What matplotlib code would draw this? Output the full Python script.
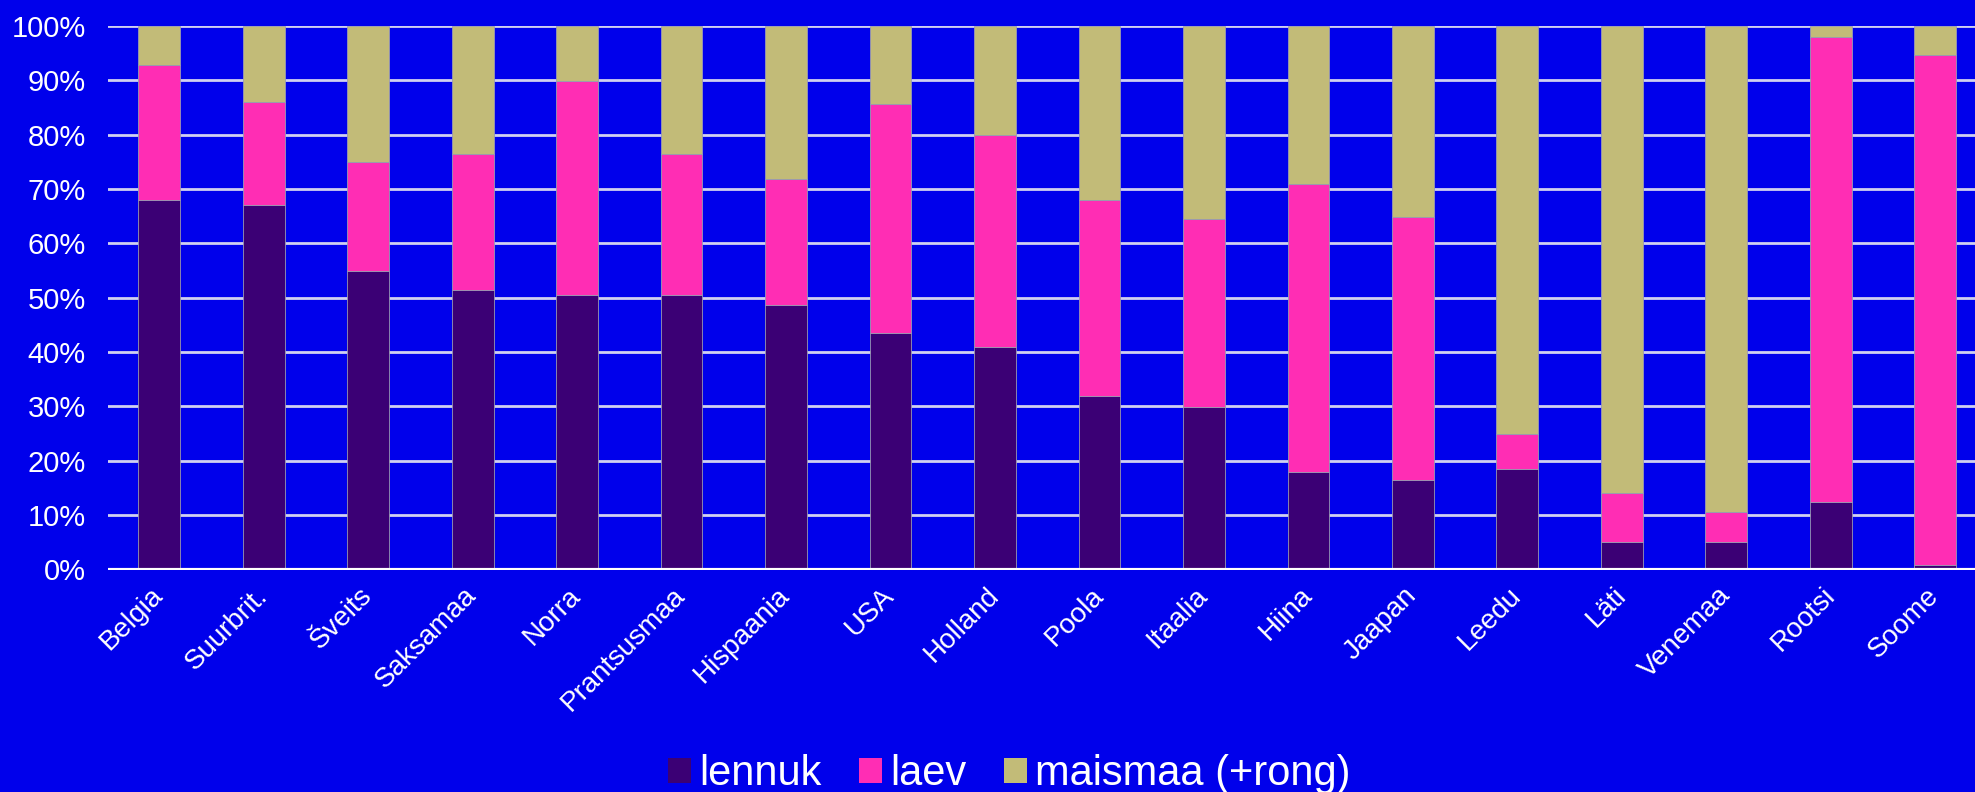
import numpy as np
import matplotlib.pyplot as plt
from matplotlib.ticker import PercentFormatter

plt.rcParams['font.family'] = ['Liberation Sans', 'DejaVu Sans']

# Data (shares in %)
countries = ['Belgia', 'Suurbrit.', 'Šveits', 'Saksamaa', 'Norra', 'Prantsusmaa',
             'Hispaania', 'USA', 'Holland', 'Poola', 'Itaalia', 'Hiina', 'Jaapan',
             'Leedu', 'Läti', 'Venemaa', 'Rootsi', 'Soome']
lennuk = [68, 67, 55, 51.4, 50.5, 50.5, 48.6, 43.6, 41, 31.9, 29.9, 18, 16.4,
          18.5, 5.1, 5.1, 12.5, 0.8]
laev = [24.9, 19, 20, 25.1, 39.4, 26, 23.3, 42.1, 39, 36.1, 34.6, 53, 48.5,
        6.5, 8.9, 5.4, 85.5, 93.9]
maismaa = [7.1, 14, 25, 23.5, 10.1, 23.5, 28.1, 14.3, 20, 32, 35.5, 29, 35.1,
           75, 86, 89.5, 2, 5.3]
series_names = ['lennuk', 'laev', 'maismaa (+rong)']

bg = '#0000EB'
colors = ['#3B0075', '#FF2DB4', '#C2BB78']

fig, ax = plt.subplots(figsize=(19.75, 7.92), dpi=100)
fig.patch.set_facecolor(bg)
ax.set_facecolor(bg)
fig.subplots_adjust(left=108/1975, right=1.0, top=1-26/792, bottom=1-569.5/792)

x = np.arange(len(countries))
bottom = np.zeros(len(countries))
for vals, name, c in zip([lennuk, laev, maismaa], series_names, colors):
    ax.bar(x, vals, width=0.4, bottom=bottom, color=c, label=name,
           edgecolor='#9A9AB0', linewidth=0.6, zorder=3)
    bottom += np.array(vals)

ax.set_ylim(0, 100)
ax.set_xlim(-0.49, 17.38)
ax.set_yticks(np.arange(0, 101, 10))
ax.yaxis.set_major_formatter(PercentFormatter(decimals=0))
ax.grid(axis='y', color='#D0D0F0', linewidth=2, zorder=0)
ax.axhline(0, color='white', linewidth=3, zorder=4)
for s in ax.spines.values():
    s.set_visible(False)

ax.tick_params(axis='y', length=0, pad=16, labelsize=21, labelcolor='white')
ax.tick_params(axis='x', length=0, pad=16, labelsize=20, labelcolor='white')
ax.set_xticks(x)
ax.set_xticklabels(countries, rotation=45, ha='right', va='center',
                   rotation_mode='anchor')

leg = fig.legend(loc='lower center', bbox_to_anchor=(0.511, -0.05), ncol=3,
                 frameon=False, fontsize=30, labelcolor='white',
                 handlelength=0.55, handleheight=0.55, handletextpad=0.2,
                 columnspacing=0.9)
for h in leg.legend_handles:
    h.set_edgecolor('none')

plt.savefig('out.png', dpi=100, facecolor=bg)
